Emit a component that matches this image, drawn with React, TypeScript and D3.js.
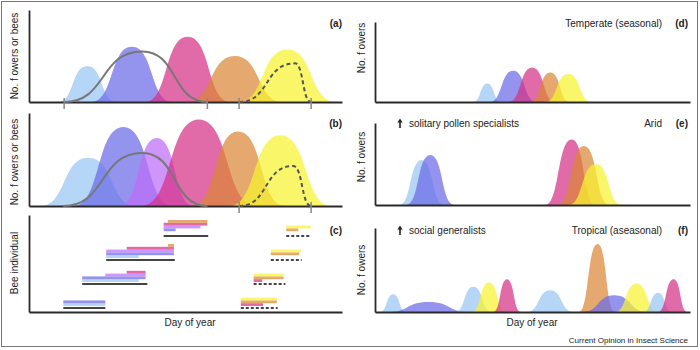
import * as d3 from 'd3'
import { useEffect, useRef } from 'react'

const WIDTH = 700
const HEIGHT = 350
const FONT = '"Liberation Sans", Arial, Helvetica, sans-serif'

// flower species, named by colour
const speciesColors: Record<string, string> = {
    sky: '#98c6f2',
    blue: '#6b6be8',
    violet: '#bc6cf8',
    pink: '#d63087',
    orange: '#db8737',
    yellow: '#f8f330',
}

// bloom curves: [species, first day, peak day, last day, peak height (% of axis)]
type Bloom = [string, number, number, number, number]

const bloomsA: Bloom[] = [
    ['sky', 34, 68, 102, 39],
    ['blue', 73, 120, 167, 60],
    ['pink', 135, 185, 235, 71],
    ['orange', 184, 240, 296, 50],
    ['yellow', 244, 301, 358, 57],
]
const bloomsB: Bloom[] = [
    ['sky', 13, 69, 125, 52],
    ['blue', 52, 110, 168, 85],
    ['violet', 106, 149, 192, 73],
    ['pink', 131, 198, 265, 93],
    ['orange', 190, 244, 298, 80],
    ['yellow', 233, 293, 353, 76],
]
const bloomsD: Bloom[] = [
    ['sky', 114, 130, 146, 23],
    ['blue', 133, 160, 187, 39],
    ['pink', 155, 182, 209, 43],
    ['orange', 180, 203, 226, 37],
    ['yellow', 197, 224, 251, 35],
]
const bloomsE: Bloom[] = [
    ['sky', 28, 54, 80, 55],
    ['blue', 36, 64, 92, 61],
    ['pink', 197, 228, 256, 80],
    ['orange', 212, 242, 272, 72],
    ['yellow', 224, 256, 286, 50],
]
const bloomsF: Bloom[] = [
    ['sky', 6, 21, 36, 21],
    ['blue', 14, 62, 110, 12],
    ['sky', 93, 114, 135, 30],
    ['yellow', 112, 132, 152, 35],
    ['pink', 137, 153, 169, 39],
    ['sky', 176, 203, 230, 26],
    ['orange', 236, 258, 278, 81],
    ['blue', 240, 277, 316, 20],
    ['yellow', 278, 303, 328, 34],
    ['sky', 311, 328, 344, 23],
    ['pink', 328, 346, 362, 39],
]

// bee activity curves: [first day, peak day, last day, height]
const beeSolidA = [41, 132, 208, 55]
const beeDashedA = [245, 310, 329, 42]
const beeSolidB = [40, 132, 208, 57]
const beeDashedB = [245, 308, 329, 43]
const ticksA = [41, 208, 245, 329]
const ticksB = [245, 329]

// panel (c): flowers visited by each bee individual (row 1 = bottom)
const slotsEarly = ['sky', 'blue', 'violet', 'pink', 'orange']
const slotsLate = ['pink', 'orange', 'yellow']
const visitsEarly: [number, string, number, number][] = [
    [1, 'sky', 40, 89], [1, 'blue', 40, 89],
    [2, 'sky', 62, 128], [2, 'blue', 62, 136], [2, 'violet', 89, 136], [2, 'pink', 114, 136],
    [3, 'sky', 90, 128], [3, 'blue', 90, 169], [3, 'violet', 90, 169], [3, 'pink', 114, 169], [3, 'orange', 162, 169],
    [4, 'blue', 157, 171], [4, 'violet', 157, 200], [4, 'pink', 157, 208], [4, 'orange', 162, 208],
]
const visitsLate: [number, string, number, number][] = [
    [1, 'pink', 247, 273], [1, 'orange', 247, 289], [1, 'yellow', 247, 289],
    [2, 'pink', 262, 272], [2, 'orange', 262, 297], [2, 'yellow', 262, 297],
    [3, 'orange', 282, 315], [3, 'yellow', 282, 317],
    [4, 'orange', 300, 314], [4, 'yellow', 300, 329],
]
const activeEarly: [number, number, number][] = [[1, 40, 89], [2, 62, 138], [3, 90, 170], [4, 157, 209]]
const activeLate: [number, number, number][] = [[1, 247, 290], [2, 262, 299], [3, 282, 318], [4, 300, 329]]
const beeRows = [1, 2, 3, 4]

function bellPath(x: d3.ScaleLinear<number, number>, y: d3.ScaleLinear<number, number>,
    s: number, p: number, e: number, h: number, close: boolean) {
    const path = d3.path()
    path.moveTo(x(s), y(0))
    path.bezierCurveTo(x(s + 0.55 * (p - s)), y(0), x(p - 0.55 * (p - s)), y(h), x(p), y(h))
    path.bezierCurveTo(x(p + 0.55 * (e - p)), y(h), x(e - 0.55 * (e - p)), y(0), x(e), y(0))
    if (close) path.closePath()
    return path.toString()
}

export default function App() {
    const svgRef = useRef<SVGSVGElement>(null)

    useEffect(() => {
        if (!svgRef.current) return
        const svg = d3.select(svgRef.current)
        svg.selectAll('*').remove()

        svg.append('rect')
            .attr('x', 1.5).attr('y', 1.5)
            .attr('width', 696).attr('height', 345)
            .attr('fill', 'white').attr('stroke', '#777').attr('stroke-width', 1)

        const xLeft = d3.scaleLinear().domain([0, 365]).range([29, 342])
        const xRight = d3.scaleLinear().domain([0, 365]).range([375, 690])

        const drawAxes = (x: d3.ScaleLinear<number, number>, y: d3.ScaleLinear<number, number>) => {
            const g = svg.append('g')
            g.append('g')
                .attr('transform', `translate(0,${y(0)})`)
                .call(d3.axisBottom(x).tickValues([]).tickSizeOuter(0))
            g.append('g')
                .attr('transform', `translate(${x(0)},0)`)
                .call(d3.axisLeft(y).tickValues([]).tickSizeOuter(0))
            g.selectAll('.domain').attr('stroke', '#2a2a2a').attr('stroke-width', 1.8)
        }

        const drawBlooms = (x: d3.ScaleLinear<number, number>, y: d3.ScaleLinear<number, number>, blooms: Bloom[]) => {
            svg.append('g')
                .selectAll('path')
                .data(blooms)
                .join('path')
                .attr('d', (d) => bellPath(x, y, d[1], d[2], d[3], d[4], true))
                .attr('fill', (d) => speciesColors[d[0]])
                .attr('fill-opacity', 0.72)
        }

        const drawBees = (x: d3.ScaleLinear<number, number>, y: d3.ScaleLinear<number, number>,
            solid: number[], dashed: number[], ticks: number[]) => {
            svg.append('path')
                .attr('d', bellPath(x, y, solid[0], solid[1], solid[2], solid[3], false))
                .attr('fill', 'none').attr('stroke', '#777').attr('stroke-width', 2)
            svg.append('path')
                .attr('d', bellPath(x, y, dashed[0], dashed[1], dashed[2], dashed[3], false))
                .attr('fill', 'none').attr('stroke', '#555').attr('stroke-width', 2)
                .attr('stroke-dasharray', '4,3')
            svg.append('g')
                .selectAll('line')
                .data(ticks)
                .join('line')
                .attr('x1', (d) => x(d)).attr('x2', (d) => x(d))
                .attr('y1', y(0) - 4).attr('y2', y(0) + 7)
                .attr('stroke', '#888').attr('stroke-width', 1.5)
        }

        const text = (x: number, y: number, s: string, opts: { anchor?: string; size?: number; bold?: boolean; rotate?: boolean } = {}) => {
            return svg.append('text')
                .attr('transform', opts.rotate ? `translate(${x},${y}) rotate(-90)` : `translate(${x},${y})`)
                .attr('text-anchor', opts.anchor ?? 'start')
                .attr('font-family', FONT)
                .attr('font-size', opts.size ?? 10)
                .attr('font-weight', opts.bold ? 'bold' : 'normal')
                .attr('fill', '#222')
                .text(s)
        }

        // small upward arrow in front of the bee-type notes
        const arrow = (x: number, y: number) => {
            svg.append('line')
                .attr('x1', x).attr('x2', x).attr('y1', y).attr('y2', y - 6)
                .attr('stroke', '#222').attr('stroke-width', 1.6)
            svg.append('path')
                .attr('d', `M${x - 2.6},${y - 5.5}L${x},${y - 9.5}L${x + 2.6},${y - 5.5}Z`)
                .attr('fill', '#222')
        }

        // (a)
        const yA = d3.scaleLinear().domain([0, 100]).range([102, 10])
        drawBlooms(xLeft, yA, bloomsA)
        drawAxes(xLeft, yA)
        drawBees(xLeft, yA, beeSolidA, beeDashedA, ticksA)
        text(18, 56, 'No. f owers or bees', { anchor: 'middle', rotate: true })
        text(342, 27, '(a)', { anchor: 'end', bold: true })

        // (b)
        const yB = d3.scaleLinear().domain([0, 100]).range([206, 113])
        drawBlooms(xLeft, yB, bloomsB)
        drawAxes(xLeft, yB)
        drawBees(xLeft, yB, beeSolidB, beeDashedB, ticksB)
        text(18, 162, 'No. f owers or bees', { anchor: 'middle', rotate: true })
        text(342, 127, '(b)', { anchor: 'end', bold: true })

        // (c)
        const yC = d3.scaleLinear().domain([0, 100]).range([312, 215])
        const row = d3.scalePoint<number>().domain(beeRows).range([308, 236])
        const barH = 2.8
        const cg = svg.append('g')
        const drawVisits = (visits: [number, string, number, number][], slots: string[]) => {
            cg.append('g')
                .selectAll('rect')
                .data(visits)
                .join('rect')
                .attr('x', (d) => xLeft(d[2]))
                .attr('width', (d) => xLeft(d[3]) - xLeft(d[2]))
                .attr('y', (d) => (row(d[0]) as number) - 2 - barH * (slots.indexOf(d[1]) + 1))
                .attr('height', barH)
                .attr('fill', (d) => speciesColors[d[1]])
                .attr('fill-opacity', 0.72)
        }
        drawVisits(visitsEarly, slotsEarly)
        drawVisits(visitsLate, slotsLate)
        cg.append('g').selectAll('line').data(activeEarly).join('line')
            .attr('x1', (d) => xLeft(d[1])).attr('x2', (d) => xLeft(d[2]))
            .attr('y1', (d) => row(d[0]) as number).attr('y2', (d) => row(d[0]) as number)
            .attr('stroke', '#444').attr('stroke-width', 1.8)
        cg.append('g').selectAll('line').data(activeLate).join('line')
            .attr('x1', (d) => xLeft(d[1])).attr('x2', (d) => xLeft(d[2]))
            .attr('y1', (d) => row(d[0]) as number).attr('y2', (d) => row(d[0]) as number)
            .attr('stroke', '#444').attr('stroke-width', 1.8).attr('stroke-dasharray', '3,2')
        drawAxes(xLeft, yC)
        text(18, 263, 'Bee individual', { anchor: 'middle', rotate: true })
        text(342, 234, '(c)', { anchor: 'end', bold: true })
        text(190, 326, 'Day of year', { anchor: 'middle' })

        // (d)
        const yD = d3.scaleLinear().domain([0, 100]).range([102, 22])
        drawBlooms(xRight, yD, bloomsD)
        drawAxes(xRight, yD)
        text(365, 48, 'No. f owers', { anchor: 'middle', rotate: true })
        text(662, 27, 'Temperate (seasonal)', { anchor: 'end' })
        text(688, 27, '(d)', { anchor: 'end', bold: true })

        // (e)
        const yE = d3.scaleLinear().domain([0, 100]).range([205, 123])
        drawBlooms(xRight, yE, bloomsE)
        drawAxes(xRight, yE)
        text(365, 157, 'No. f owers', { anchor: 'middle', rotate: true })
        arrow(400, 128)
        text(409, 127, 'solitary pollen specialists')
        text(662, 127, 'Arid', { anchor: 'end' })
        text(688, 127, '(e)', { anchor: 'end', bold: true })

        // (f)
        const yF = d3.scaleLinear().domain([0, 100]).range([312, 228])
        drawBlooms(xRight, yF, bloomsF)
        drawAxes(xRight, yF)
        text(365, 270, 'No. f owers', { anchor: 'middle', rotate: true })
        arrow(400, 235)
        text(409, 234, 'social generalists')
        text(662, 234, 'Tropical (aseasonal)', { anchor: 'end' })
        text(688, 234, '(f)', { anchor: 'end', bold: true })
        text(532, 326, 'Day of year', { anchor: 'middle' })
        text(688, 343, 'Current Opinion in Insect Science', { anchor: 'end', size: 8 })
    }, [])

    return (
        <svg
            ref={svgRef}
            width={WIDTH}
            height={HEIGHT}
            style={{ position: 'absolute', left: 0, top: 0, background: 'white' }}
        />
    )
}
